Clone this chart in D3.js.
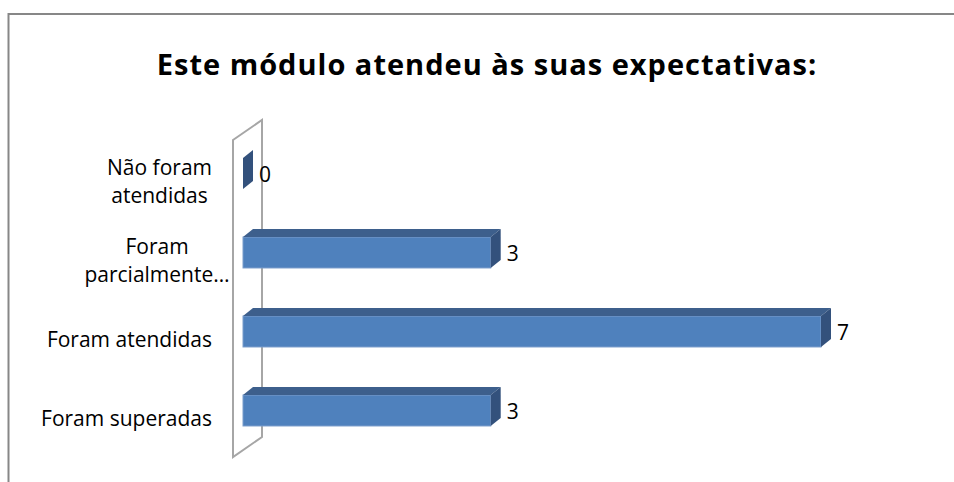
<!DOCTYPE html>
<html>
<head>
<meta charset="utf-8">
<script src="https://cdn.jsdelivr.net/npm/d3@7"></script>
<style>
  body { margin: 0; background: #fff; }
  svg text { font-family: "Open Sans", Lato, sans-serif; fill: #000; }
</style>
</head>
<body>
<div id="chart"></div>
<script>
var titleText = "Este módulo atendeu às suas expectativas:";
var categories = ["Não foram atendidas", "Foram parcialmente atendidas", "Foram atendidas", "Foram superadas"];
var tickLabels = [["Não foram", "atendidas"], ["Foram", "parcialmente…"], ["Foram atendidas"], ["Foram superadas"]];
var values = [0, 3, 7, 3];

var width = 954, height = 482;
var depth = {dx: 10, dy: -8};
var labelRight = 212;
var wrapWidth = 110;   // width of the wrapped label box, longer lines spill over
var fontSize = "21px";

var svg = d3.select("#chart").append("svg")
    .attr("width", width)
    .attr("height", height);

// outer chart border (runs off the right and bottom of the picture)
svg.append("rect")
    .attr("x", 8.5).attr("y", 14)
    .attr("width", 1000).attr("height", 520)
    .style("fill", "none")
    .style("stroke", "#878787")
    .style("stroke-width", 2);

svg.append("text")
    .attr("x", 487).attr("y", 75)
    .style("text-anchor", "middle")
    .style("font-weight", "bold")
    .style("font-size", "29px")
    .style("letter-spacing", "1px")
    .text(titleText);

var x = d3.scaleLinear()
    .domain([0, 7])
    .range([243, 821]);

var y = d3.scaleBand()
    .domain(categories)
    .range([134, 450])
    .paddingInner(0.608)
    .paddingOuter(0.304);

// side wall at value 0
var wx = x(0) - 10, wTop = y.range()[0] + 6, wBot = y.range()[1] + 7;
svg.append("polygon")
    .attr("points", [[wx, wTop], [wx + 29, wTop - 20], [wx + 29, wBot - 20], [wx, wBot]].join(" "))
    .style("fill", "#fff")
    .style("stroke", "#a6a6a6")
    .style("stroke-width", 2);

var data = categories.map(function(c, i) {
    return {name: c, value: values[i], lines: tickLabels[i]};
});

var bars = svg.selectAll(".bar")
    .data(data)
  .enter().append("g")
    .attr("class", "bar");

bars.append("rect")
    .attr("x", x(0))
    .attr("y", function(d) { return y(d.name); })
    .attr("width", function(d) { return x(d.value) - x(0); })
    .attr("height", y.bandwidth())
    .style("fill", "#4f81bd")
    .style("stroke", "#7a9dcc")
    .style("stroke-width", function(d) { return d.value > 0 ? 1 : 0; });

bars.append("polygon")
    .attr("points", function(d) {
        var x0 = x(0), x1 = x(d.value), y0 = y(d.name);
        return [[x0, y0], [x0 + depth.dx, y0 + depth.dy], [x1 + depth.dx, y0 + depth.dy], [x1, y0]].join(" ");
    })
    .style("fill", "#3d5f8c");

bars.append("polygon")
    .attr("points", function(d) {
        var x1 = x(d.value), y0 = y(d.name), h = y.bandwidth();
        return [[x1, y0], [x1 + depth.dx, y0 + depth.dy], [x1 + depth.dx, y0 + h + depth.dy], [x1, y0 + h]].join(" ");
    })
    .style("fill", "#33517c");

// value labels
bars.append("text")
    .attr("x", function(d) { return x(d.value) + depth.dx + 6; })
    .attr("y", function(d) { return y(d.name) + y.bandwidth() / 2 + 1; })
    .attr("dy", "0.35em")
    .style("font-size", fontSize)
    .text(function(d) { return d.value; });

// category labels, wrapped lines centred inside a right-aligned block
var labels = svg.selectAll(".cat")
    .data(data)
  .enter().append("g")
    .attr("class", "cat");

labels.each(function(d) {
    var g = d3.select(this);
    var mid = y(d.name) + y.bandwidth() / 2 + 8;
    var lineH = 28;
    var n = d.lines.length;
    if (n == 1) {
        g.append("text")
            .attr("x", labelRight)
            .attr("y", mid)
            .attr("dy", "0.35em")
            .style("text-anchor", "end")
            .style("font-size", fontSize)
            .text(d.lines[0]);
        return;
    }
    var widest = 0;
    d.lines.forEach(function(l) {
        var t = g.append("text").style("font-size", fontSize).text(l);
        widest = Math.max(widest, t.node().getComputedTextLength());
        t.remove();
    });
    var cx = labelRight - Math.min(widest, wrapWidth) / 2;
    d.lines.forEach(function(l, i) {
        g.append("text")
            .attr("x", cx)
            .attr("y", mid + (i - (n - 1) / 2) * lineH)
            .attr("dy", "0.35em")
            .style("text-anchor", "middle")
            .style("font-size", fontSize)
            .text(l);
    });
});
</script>
</body>
</html>
